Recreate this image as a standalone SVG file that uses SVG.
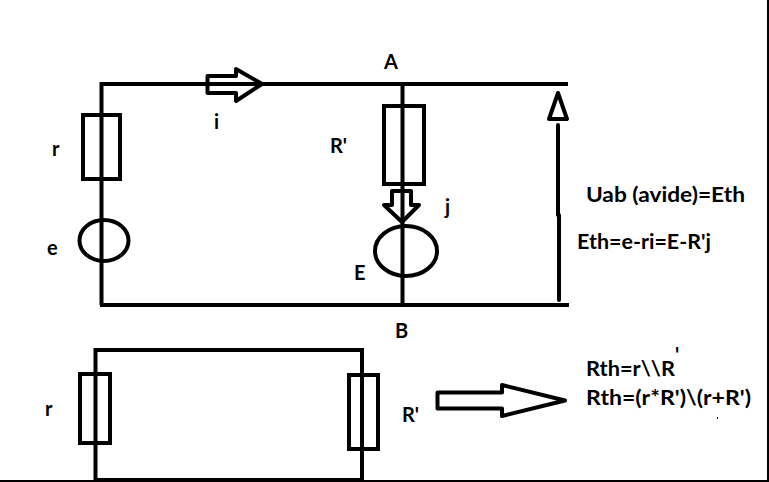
<svg xmlns="http://www.w3.org/2000/svg" width="769" height="482" viewBox="0 0 769 482">
<style>
.w{fill:none;stroke:#000;stroke-width:4}
.a{fill:none;stroke:#000;stroke-width:4;stroke-linejoin:round;stroke-linecap:round}
text{font-family:"Lato","Open Sans",sans-serif;font-size:20px;font-weight:700;fill:#000}
</style>
<rect width="769" height="482" fill="#fff"/>
<g id="frame"><path d="M0 481H768V0" fill="none" stroke="#000" stroke-width="2"/></g>
<g id="connectors">
<path class="w" d="M101.500 305V84H402.500M402.500 84H568M402.500 84V305M100 305H569"/>
<path class="w" d="M95.500 480V350H362V480M94 480H362"/>
<path class="a" d="M558 125V215M559 215V300"/>
</g>
<g id="r1"><rect class="w" x="83" y="115" width="37" height="64"/><text x="52" y="156">r</text></g>
<g id="e1"><ellipse class="w" cx="104" cy="240.500" rx="24.500" ry="20.500"/><text x="47" y="255">e</text></g>
<g id="i-arrow"><path class="a" d="M207.500 76H236V69L262 84L236 101V93H207.500Z"/><text x="214" y="129">i</text></g>
<g id="node-A"><text x="384" y="69">A</text></g>
<g id="r2"><rect class="w" x="384" y="106" width="40" height="78"/><text x="330" y="153">R'</text></g>
<g id="j-arrow"><path class="a" d="M392 191H411V205H419L402 222L384 205H392Z"/><text x="445" y="214">j</text></g>
<g id="e2"><ellipse class="w" cx="406" cy="251" rx="31" ry="25"/><text x="354" y="280">E</text></g>
<g id="node-B"><text x="395" y="338">B</text></g>
<g id="u-arrow"><path class="a" d="M558 93L567 119H549Z"/></g>
<g id="eq1"><text x="586" y="202" textLength="159" lengthAdjust="spacingAndGlyphs">Uab (avide)=Eth</text><text x="577" y="249" textLength="134" lengthAdjust="spacingAndGlyphs">Eth=e-ri=E-R'j</text></g>
<g id="r3"><rect class="w" x="80" y="374" width="30" height="69"/><text x="45" y="416">r</text></g>
<g id="r4"><rect class="w" x="349" y="375" width="29" height="74"/><text x="402" y="422">R'</text></g>
<g id="big-arrow"><path class="a" d="M437.500 392.500H502V385L565 400.500L502 416V408.500H437.500Z"/></g>
<g id="eq2"><text x="586" y="376" textLength="89" lengthAdjust="spacingAndGlyphs">Rth=r\\R</text><text x="675" y="362">'</text><text x="586" y="405" textLength="165" lengthAdjust="spacingAndGlyphs">Rth=(r*R')\(r+R')</text></g>
<rect x="717" y="417" width="1" height="2" fill="#000"/>
</svg>
